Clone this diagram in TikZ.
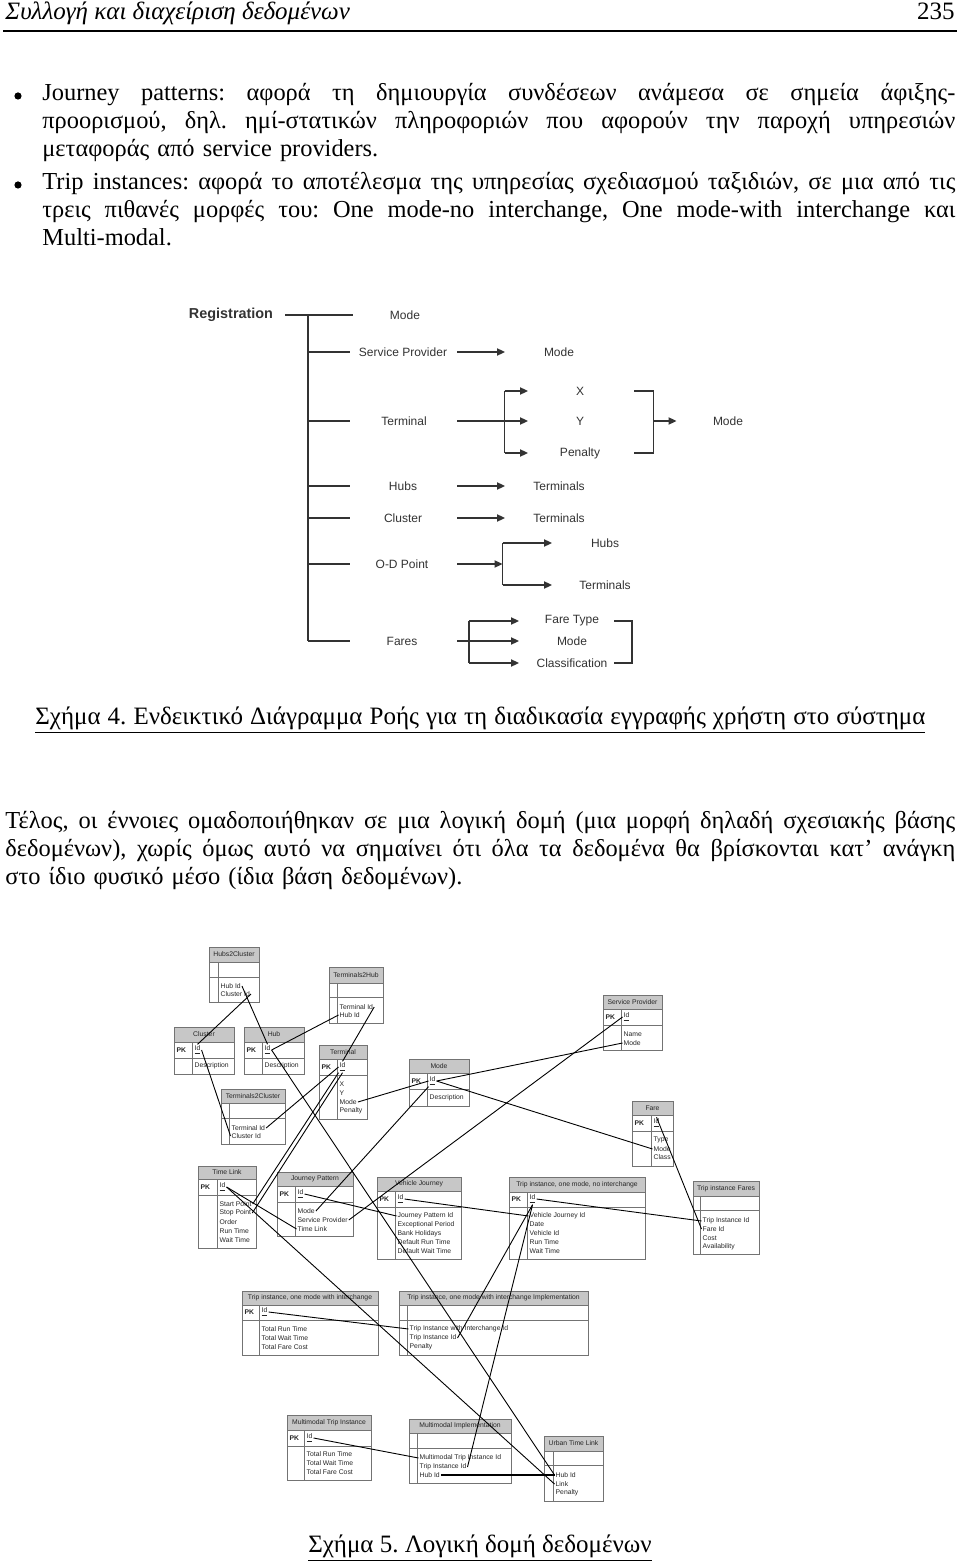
\documentclass[tikz,border=0pt]{standalone}
\usepackage{fontspec}
\setmainfont{Liberation Serif}
\newfontfamily\arialfont{Liberation Sans}
\usetikzlibrary{arrows.meta,positioning}
\frenchspacing

\newcommand{\bodysize}{\fontsize{12.2}{14}\selectfont}
% one table of the logical schema: name, x1, x2, x of key column, y top, y head, y key row, y bottom, title
\newcommand{\ertable}[9]{%
  \fill[tabhead] (#2,#5) rectangle (#3,#6);
  \draw[tabline] (#2,#5) rectangle (#3,#8) (#2,#6) -- (#3,#6) (#2,#7) -- (#3,#7) (#4,#6) -- (#4,#8);
  \node[tabtxt] (#1) at ({(#2+#3)/2},{(#5+#6)/2}) {#9};%
}
\newcommand{\pkrow}[4]{%
  \node[tabtxt,anchor=west,font=\arialfont\bfseries\fontsize{3.4}{4.5}\selectfont] (#1-pk) at (#2+1.5,#4) {PK};
  \node[tabtxt,anchor=west] (#1-id) at (#3+1.5,#4) {\underline{Id}};%
}
\newcommand{\fld}[4]{\node[tabtxt,anchor=west] (#1) at (#2+1.5,#3) {#4};}
\newcommand{\jline}[1]{{\spaceskip=0pt\xspaceskip=0pt\makebox[456.5pt][s]{#1}}}
\newcommand{\pline}[1]{{\spaceskip=0pt\xspaceskip=0pt\makebox[475pt][s]{#1}}}

\begin{document}
\begin{tikzpicture}[x=0.5pt,y=-0.5pt,
    body/.style={font=\bodysize,inner sep=0pt},
    dot/.style={circle,fill=black,inner sep=0pt,minimum size=3.6pt},
    flow/.style={font=\arialfont\fontsize{6}{7}\selectfont,text=black!80,inner sep=0pt},
    flowline/.style={line width=0.75pt,draw=black!80},
    flowarr/.style={flowline,-{Triangle[length=4pt,width=3.6pt]}},
    tabline/.style={draw=black!55,line width=0.45pt},
    tabhead/.style={fill=black!22},
    tabtxt/.style={font=\arialfont\fontsize{3.4}{4.5}\selectfont,text=black!85,inner sep=0.4pt},
    rel/.style={line width=0.45pt,draw=black}
  ]
\useasboundingbox (0,0) rectangle (960,1561);
\fill[white] (0,0) rectangle (960,1561);

% page head
\node[body,anchor=base west,font=\itshape\fontsize{12.5}{14}\selectfont] (hdr) at (5,20) {Συλλογή και διαχείριση δεδομένων};
\node[body,anchor=base east,font=\fontsize{12.5}{14}\selectfont] (pgno) at (955,20) {235};
\draw[line width=1pt] (3,31) -- (957,31);

% bullets
\node[dot] (b1) at (18,96) {};
\node[body,anchor=base west,text width=456.5pt,align=left] (txt1) at (42,101)
  {\jline{Journey patterns: αφορά τη δημιουργία συνδέσεων ανάμεσα σε σημεία άφιξης-}\\
   \jline{προορισμού, δηλ. ημί-στατικών πληροφοριών που αφορούν την παροχή υπηρεσιών}\\
   μεταφοράς από service providers.};
\node[dot] (b2) at (18,185) {};
\node[body,anchor=base west,text width=456.5pt,align=left] (txt2) at (42,190)
  {\jline{Trip instances: αφορά το αποτέλεσμα της υπηρεσίας σχεδιασμού ταξιδιών, σε μια από τις}\\
   \jline{τρεις πιθανές μορφές του: One mode-no interchange, One mode-with interchange και}\\
   Multi-modal.};

% registration flow
\node[flow,font=\arialfont\bfseries\fontsize{7.2}{8}\selectfont] (reg) at (231,315) {Registration};
\node[flow] (rmode) at (405,315) {Mode};
\node[flow] (rsp) at (403,352) {Service Provider};
\node[flow] (rspmode) at (559,352) {Mode};
\node[flow] (rterm) at (404,421) {Terminal};
\node[flow] (rx) at (580,391) {X};
\node[flow] (ry) at (580,421) {Y};
\node[flow] (rpen) at (580,453) {Penalty};
\node[flow] (rtmode) at (728,421) {Mode};
\node[flow] (rhubs) at (403,486) {Hubs};
\node[flow] (rhubsterm) at (559,486) {Terminals};
\node[flow] (rclu) at (403,518) {Cluster};
\node[flow] (rcluterm) at (559,518) {Terminals};
\node[flow] (rod) at (402,564) {O-D Point};
\node[flow] (rodhubs) at (605,543) {Hubs};
\node[flow] (rodterm) at (605,585) {Terminals};
\node[flow] (rfares) at (402,641) {Fares};
\node[flow] (rftype) at (572,621) {Fare Type};
\node[flow] (rfmode) at (572,641) {Mode};
\node[flow] (rfclass) at (572,663) {Classification};

\coordinate (ctr) at (308,315);
\coordinate (cbr) at (350,315);
\coordinate (ca) at (457,315);
\coordinate (cb) at (505,315);
\coordinate (cc) at (528,315);
\coordinate (cd) at (504.5,315);
\coordinate (ce) at (634,315);
\coordinate (cf) at (653.5,315);
\coordinate (cg) at (676.5,315);
\coordinate (ch) at (502.5,315);
\coordinate (ci) at (552,315);
\coordinate (cj) at (519,315);
\coordinate (ck) at (469,315);
\coordinate (cl) at (614,315);
\coordinate (cm) at (632,315);

\draw[flowline] ([xshift=6pt]reg.east) -- ([xshift=1.5pt]cbr);
\draw[flowline] (ctr) -- (ctr |- rfares);
\foreach \n in {rsp,rterm,rhubs,rclu,rod,rfares}
  \draw[flowline] (ctr |- \n) -- (cbr |- \n);
\foreach \n in {rsp,rhubs,rclu}
  \draw[flowarr] (ca |- \n) -- (cb |- \n);
% terminal
\draw[flowarr] (ca |- rterm) -- (cc |- rterm);
\draw[flowline] (cd |- rx) -- (cd |- rpen);
\draw[flowarr] (cd |- rx) -- (cc |- rx);
\draw[flowarr] (cd |- rpen) -- (cc |- rpen);
\draw[flowline] (ce |- rx) -| (cf |- rpen) -- (ce |- rpen);
\draw[flowarr] (cf |- rtmode) -- (cg |- rtmode);
% o-d point
\draw[flowarr] (ca |- rod) -- (ch |- rod);
\draw[flowline] (ch |- rodhubs) -- (ch |- rodterm);
\draw[flowarr] (ch |- rodhubs) -- (ci |- rodhubs);
\draw[flowarr] (ch |- rodterm) -- (ci |- rodterm);
% fares
\draw[flowarr] (ca |- rfares) -- (cj |- rfares);
\draw[flowline] (ck |- rftype) -- (ck |- rfclass);
\draw[flowarr] (ck |- rftype) -- (cj |- rftype);
\draw[flowarr] (ck |- rfclass) -- (cj |- rfclass);
\draw[flowline] (cl |- rftype) -| (cm |- rfclass) -- (cl |- rfclass);

\node[body,anchor=base west,font=\fontsize{12.5}{14}\selectfont] (cap4) at (35,724)
  {\underline{\makebox[445pt][s]{Σχήμα 4. Ενδεικτικό Διάγραμμα Ροής για τη διαδικασία εγγραφής χρήστη στο σύστημα}}};

\node[body,anchor=base west,text width=475pt,align=left] (txt3) at (5,828)
  {\pline{Τέλος, οι έννοιες ομαδοποιήθηκαν σε μια λογική δομή (μια μορφή δηλαδή σχεσιακής βάσης}\\
   \pline{δεδομένων), χωρίς όμως αυτό να σημαίνει ότι όλα τα δεδομένα θα βρίσκονται κατ’ ανάγκη}\\
   στο ίδιο φυσικό μέσο (ίδια βάση δεδομένων).};

% logical schema
\ertable{h2c}{209}{259}{218}{947}{962}{977}{1002}{Hubs2Cluster}
\fld{h2c-hid}{218}{986}{Hub Id}
\fld{h2c-cid}{218}{994}{Cluster Id}

\ertable{t2h}{329}{383}{337}{967}{983}{997}{1023}{Terminals2Hub}
\fld{t2h-tid}{337}{1007}{Terminal Id}
\fld{t2h-hid}{337}{1015}{Hub Id}

\ertable{clu}{174}{234}{192}{1027}{1042}{1058}{1074}{Cluster}
\pkrow{clu}{174}{192}{1050}
\fld{clu-desc}{192}{1066}{Description}

\ertable{hub}{244}{304}{262}{1027}{1042}{1058}{1074}{Hub}
\pkrow{hub}{244}{262}{1050}
\fld{hub-desc}{262}{1066}{Description}

\ertable{term}{319}{367}{337}{1045}{1059}{1075}{1119}{Terminal}
\pkrow{term}{319}{337}{1067}
\fld{term-x}{337}{1084}{X}
\fld{term-y}{337}{1093}{Y}
\fld{term-mode}{337}{1102}{Mode}
\fld{term-pen}{337}{1111}{Penalty}

\ertable{t2c}{221}{285}{229}{1089}{1103}{1118}{1144}{Terminals2Cluster}
\fld{t2c-tid}{229}{1128}{Terminal Id}
\fld{t2c-cid}{229}{1136}{Cluster Id}

\ertable{mode}{409}{469}{427}{1059}{1073}{1089}{1106}{Mode}
\pkrow{mode}{409}{427}{1081}
\fld{mode-desc}{427}{1098}{Description}

\ertable{sp}{603}{662}{621}{995}{1009}{1025}{1050}{Service Provider}
\pkrow{sp}{603}{621}{1017}
\fld{sp-name}{621}{1034}{Name}
\fld{sp-mode}{621}{1043}{Mode}

\ertable{fare}{632}{673}{651}{1101}{1115}{1131}{1166}{Fare}
\pkrow{fare}{632}{651}{1123}
\fld{fare-type}{651}{1140}{Type}
\fld{fare-mode}{651}{1149}{Mode}
\fld{fare-class}{651}{1157}{Class}

\ertable{tl}{198}{256}{217}{1166}{1179}{1195}{1248}{Time Link}
\pkrow{tl}{198}{217}{1187}
\fld{tl-start}{217}{1204}{Start Point}
\fld{tl-stop}{217}{1213}{Stop Point}
\fld{tl-order}{217}{1222}{Order}
\fld{tl-run}{217}{1231}{Run Time}
\fld{tl-wait}{217}{1240}{Wait Time}

\ertable{jp}{277}{353}{295}{1172}{1186}{1202}{1236}{Journey Pattern}
\pkrow{jp}{277}{295}{1194}
\fld{jp-mode}{295}{1211}{Mode}
\fld{jp-sp}{295}{1220}{Service Provider}
\fld{jp-tl}{295}{1229}{Time Link}

\ertable{vj}{377}{461}{395}{1177}{1191}{1207}{1259}{Vehicle Journey}
\pkrow{vj}{377}{395}{1199}
\fld{vj-jpid}{395}{1216}{Journey Pattern Id}
\fld{vj-ep}{395}{1225}{Exceptional Period}
\fld{vj-bh}{395}{1234}{Bank Holidays}
\fld{vj-drt}{395}{1242}{Default Run Time}
\fld{vj-dwt}{395}{1251}{Default Wait Time}

\ertable{tia}{509}{645}{527}{1177}{1192}{1207}{1259}{Trip instance, one mode, no interchange}
\pkrow{tia}{509}{527}{1199}
\fld{tia-vjid}{527}{1216}{Vehicle Journey Id}
\fld{tia-date}{527}{1224}{Date}
\fld{tia-vid}{527}{1233}{Vehicle Id}
\fld{tia-run}{527}{1242}{Run Time}
\fld{tia-wait}{527}{1251}{Wait Time}

\ertable{tif}{693}{759}{700}{1181}{1196}{1210}{1254}{Trip instance Fares}
\fld{tif-tiid}{700}{1221}{Trip Instance Id}
\fld{tif-fid}{700}{1229}{Fare Id}
\fld{tif-cost}{700}{1238}{Cost}
\fld{tif-av}{700}{1247}{Availability}

\ertable{tib}{242}{378}{259}{1291}{1305}{1320}{1355}{Trip instance, one mode with interchange}
\pkrow{tib}{242}{259}{1312}
\fld{tib-run}{259}{1329}{Total Run Time}
\fld{tib-wait}{259}{1338}{Total Wait Time}
\fld{tib-fare}{259}{1347}{Total Fare Cost}

\ertable{tibi}{399}{588}{407}{1291}{1305}{1320}{1355}{Trip instance, one mode with interchange Implementation}
\fld{tibi-wid}{407}{1329}{Trip Instance with Interchange Id}
\fld{tibi-tiid}{407}{1338}{Trip Instance Id}
\fld{tibi-pen}{407}{1347}{Penalty}

\ertable{mti}{287}{371}{304}{1415}{1430}{1446}{1480}{Multimodal Trip Instance}
\pkrow{mti}{287}{304}{1438}
\fld{mti-run}{304}{1454}{Total Run Time}
\fld{mti-wait}{304}{1463}{Total Wait Time}
\fld{mti-fare}{304}{1472}{Total Fare Cost}

\ertable{mmi}{409}{511}{417}{1419}{1433}{1448}{1483}{Multimodal Implementation}
\fld{mmi-mid}{417}{1458}{Multimodal Trip Instance Id}
\fld{mmi-tiid}{417}{1467}{Trip Instance Id}
\fld{mmi-hid}{417}{1475}{Hub Id}

\ertable{utl}{544}{603}{553}{1436}{1451}{1465}{1501}{Urban Time Link}
\fld{utl-hid}{553}{1475}{Hub Id}
\fld{utl-link}{553}{1484}{Link}
\fld{utl-pen}{553}{1493}{Penalty}

% relations
\draw[rel] (h2c-cid.east) -- (clu-id.north);
\draw[rel] (h2c-hid.east) -- (hub-id.north);
\draw[rel] (t2h-hid.west) -- (hub-id.east);
\draw[rel] (t2h-tid.east) -- (term-id.north);
\draw[rel] (clu-id.east) -- (t2c-cid.west);
\draw[rel] (t2c-tid.east) -- (term-id.west);
\draw[rel] (term-mode.east) -- (mode-id.west);
\draw[rel] (mode-id.east) -- (sp-mode.west);
\draw[rel] (mode-id.east) -- (fare-mode.west);
\draw[rel] (mode-id.south west) -- (jp-mode.east);
\draw[rel] (sp-id.west) -- (jp-sp.east);
\draw[rel] (fare-id.north) -- (tif-fid.west);
\draw[rel] (term-id.south west) -- (tl-start.east);
\draw[rel] (term-id.south) -- (tl-stop.east);
\draw[rel] (hub-id.east) -- (utl-hid.west);
\draw[rel] (tl-id.east) -- (jp-tl.west);
\draw[rel] (tl-id.east) -- (utl-link.west);
\draw[rel] (jp-id.east) -- (vj-jpid.west);
\draw[rel] (vj-id.east) -- (tia-vjid.west);
\draw[rel] (tia-id.east) -- (tif-tiid.west);
\draw[rel] (tia-id.south) -- (tibi-tiid.east);
\draw[rel] (tia-id.south) -- (mmi-tiid.east);
\draw[rel] (tib-id.east) -- (tibi-wid.west);
\draw[rel] (mti-id.east) -- (mmi-mid.west);
\draw[rel,line width=0.8pt] (mmi-hid.east) -- (utl-hid.west);

\node[body,anchor=base,font=\fontsize{12.5}{14}\selectfont] (cap5) at (480,1552) {\underline{Σχήμα 5. Λογική δομή δεδομένων}};
\end{tikzpicture}
\end{document}
